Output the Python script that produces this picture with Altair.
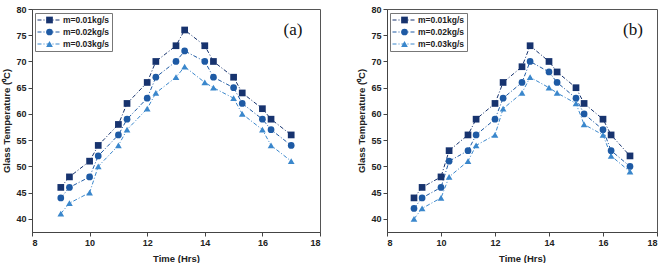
import altair as alt
import pandas as pd

hours = [9, 9.3, 10, 10.3, 11, 11.3, 12, 12.3, 13, 13.3, 14, 14.3, 15, 15.3, 16, 16.3, 17]
series = ["m=0.01kg/s", "m=0.02kg/s", "m=0.03kg/s"]
marker_keys = ["sq", "ci", "tr"]

a_001 = [46, 48, 51, 54, 58, 62, 66, 70, 73, 76, 73, 70, 67, 64, 61, 59, 56]
a_002 = [44, 46, 48, 52, 56, 59, 63, 67, 70, 72, 70, 67, 65, 62, 59, 57, 54]
a_003 = [41, 43, 45, 50, 54, 57, 61, 64, 67, 69, 66, 65, 63, 60, 57, 54, 51]

b_001 = [44, 46, 48, 53, 56, 59, 62, 66, 69, 73, 70, 68, 65, 62, 59, 56, 52]
b_002 = [42, 44, 46, 51, 53, 56, 59, 63, 66, 70, 68, 66, 63, 60, 57, 53, 50]
b_003 = [40, 42, 44, 48, 51, 54, 56, 61, 64, 67, 65, 64, 62, 58, 56, 52, 49]

panel_labels = ["(a)", "(b)"]
x_ticks = [8, 10, 12, 14, 16, 18]
y_ticks = [40, 45, 50, 55, 60, 65, 70, 75, 80]

colors = ["#17336e", "#1e5aa4", "#3a87cc"]
shapes = ["square", "circle", "triangle-up"]

FONT = "Liberation Sans"
DASH = [4, 2, 1, 2]


def make_df(vals):
    out = []
    for s, mk, v in zip(series, marker_keys, vals):
        for h, t in zip(hours, v):
            out.append({"Time": h, "Temp": t, "Series": s, "Marker": mk})
    return pd.DataFrame(out)


def common_legend(**kw):
    return alt.Legend(
        title=None,
        orient="none",
        legendX=3,
        legendY=4,
        padding=2,
        clipHeight=10,
        rowPadding=2,
        labelFont=FONT,
        labelFontWeight="bold",
        labelFontSize=8.5,
        labelColor="#222222",
        **kw,
    )


def line_legend():
    # dash-dot line symbols, labels and frame
    return common_legend(
        strokeColor="#777777",
        symbolType="stroke",
        symbolSize=529,
        symbolStrokeWidth=1,
        symbolDash=DASH,
        symbolOffset=0,
        labelOffset=2,
        zindex=1,
    )


def marker_legend():
    # markers placed over the middle of the dash-dot symbols, no labels
    return common_legend(
        symbolSize=45,
        symbolOffset=8,
        labelOpacity=0,
        labelExpr="''",
        zindex=2,
    )


def panel(vals, label, w, lx):
    df = make_df(vals)
    x = alt.X(
        "Time:Q",
        scale=alt.Scale(domain=[8, 18], nice=False, zero=False),
        axis=alt.Axis(values=x_ticks, title="Time (Hrs)"),
    )
    y = alt.Y(
        "Temp:Q",
        scale=alt.Scale(domain=[37.5, 80], nice=False, zero=False),
        axis=alt.Axis(values=y_ticks, title="Glass Temperature (\u2070C)"),
    )
    lines = alt.Chart(df).mark_line(strokeWidth=1, strokeDash=DASH).encode(
        x=x, y=y,
        color=alt.Color("Series:N", scale=alt.Scale(domain=series, range=colors), legend=line_legend()),
    )
    pts = alt.Chart(df).mark_point(filled=True, size=45, opacity=1).encode(
        x=x, y=y,
        fill=alt.Fill("Marker:N", scale=alt.Scale(domain=marker_keys, range=colors), legend=marker_legend()),
        shape=alt.Shape("Marker:N", scale=alt.Scale(domain=marker_keys, range=shapes), legend=marker_legend()),
    )
    txt = alt.Chart(pd.DataFrame({"t": [label]})).mark_text(
        font="Liberation Serif", fontSize=17, align="center", baseline="middle", color="#111111"
    ).encode(text="t:N", x=alt.value(lx), y=alt.value(21))
    return alt.layer(lines, pts, txt).properties(width=w, height=223)


pa = panel([a_001, a_002, a_003], panel_labels[0], 288, 261)
pb = panel([b_001, b_002, b_003], panel_labels[1], 270, 246)

chart = (
    alt.hconcat(pa, pb, spacing=35)
    .resolve_scale(color="independent", shape="independent", fill="independent")
    .resolve_legend(color="independent", shape="independent", fill="independent")
    .properties(padding={"left": 1, "top": 4, "right": 0, "bottom": 0})
    .configure_view(stroke="#555555", strokeWidth=1)
    .configure_axis(
        grid=False,
        domainColor="#444444",
        tickColor="#444444",
        tickSize=4,
        labelFont=FONT,
        labelFontWeight="bold",
        labelFontSize=9,
        labelColor="#222222",
        labelPadding=2,
        titleFont=FONT,
        titleFontWeight="bold",
        titleFontSize=9.5,
        titleColor="#222222",
        titlePadding=4,
    )
    .configure_axisX(titlePadding=6)
)

chart.save("out.html", embed_options={"renderer": "svg", "actions": False})
